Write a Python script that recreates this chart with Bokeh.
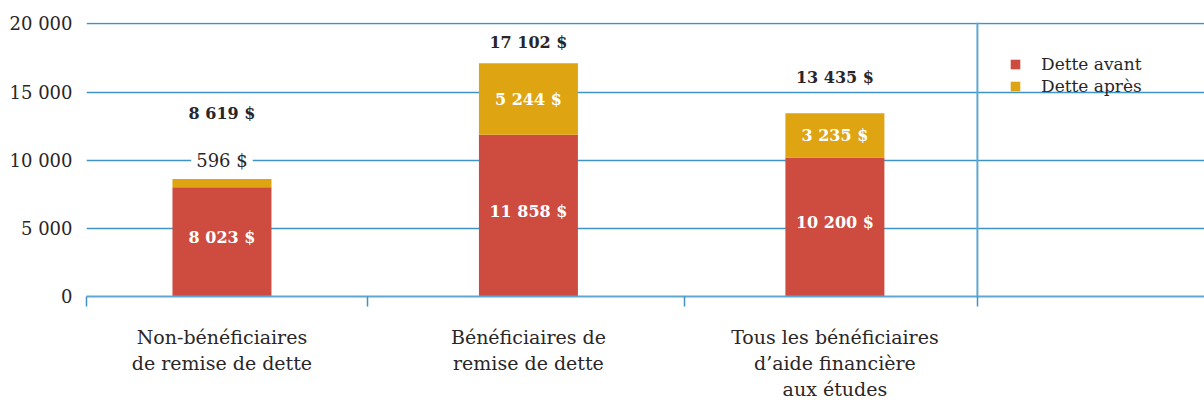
from bokeh.plotting import figure
from bokeh.models import (Range1d, FixedTicker, Span, Label, ColumnDataSource,
                          Legend, LegendItem)
from bokeh.embed import file_html
from bokeh.resources import INLINE
from bokeh.core.properties import value

# ---------------- data ----------------
categories = [
    "Non-bénéficiaires\nde remise de dette",
    "Bénéficiaires de\nremise de dette",
    "Tous les bénéficiaires\nd’aide financière\naux études",
]
series_names = ["Dette avant", "Dette après"]
dette_avant = [8023, 11858, 10200]
dette_apres = [596, 5244, 3235]
totals = [8619, 17102, 13435]
y_ticks = [0, 5000, 10000, 15000, 20000]
y_tick_labels = ["0", "5 000", "10 000", "15 000", "20 000"]

# ---------------- style ----------------
RED = "#cd4c3f"
GOLD = "#dea412"
GRID = "#3f93c6"
AXIS = "#5ea8d2"
TXT = "#2a2627"
FONT = "DejaVu Serif"
total_label_y = [13400, 18600, 16050]   # label placement (layout)
outside_label_y = 10000                 # placement for small segment label
section_edges = [-0.442, 0.475, 1.509, 2.465]

def fmt(v):
    return f"{v:,}".replace(",", " ") + " $"

x = list(range(len(categories)))
src = ColumnDataSource(dict(x=x, avant=dette_avant, apres=dette_apres))

p = figure(width=1204, height=403,
           x_range=Range1d(-0.442, 3.206), y_range=Range1d(0, 20100),
           output_backend="svg", toolbar_location=None,
           min_border_left=86, min_border_right=0,
           min_border_top=22, min_border_bottom=107)
p.outline_line_color = None
p.background_fill_color = "white"
p.border_fill_color = "white"

# grid
p.xgrid.visible = False
p.ygrid.ticker = FixedTicker(ticks=y_ticks)
p.ygrid.grid_line_color = GRID
p.ygrid.grid_line_width = 1.5

# bars
rs = p.vbar_stack(["avant", "apres"], x="x", width=0.323, source=src,
                  color=[RED, GOLD], line_color=None)

# y axis
p.yaxis.ticker = FixedTicker(ticks=y_ticks)
p.yaxis.major_label_overrides = {t: l for t, l in zip(y_ticks, y_tick_labels)}
p.yaxis.axis_line_color = None
p.yaxis.major_tick_line_color = None
p.yaxis.major_tick_out = 0
p.yaxis.major_tick_in = 0
p.yaxis.minor_tick_line_color = None
p.yaxis.major_label_standoff = 14
p.yaxis.major_label_text_font = FONT
p.yaxis.major_label_text_font_size = "18px"
p.yaxis.major_label_text_color = TXT

# x axis: category labels + section ticks
p.xaxis.ticker = FixedTicker(ticks=x, minor_ticks=section_edges)
p.xaxis.major_label_overrides = {i: c for i, c in zip(x, categories)}
p.xaxis.axis_line_color = AXIS
p.xaxis.axis_line_width = 2
p.xaxis.major_tick_line_color = None
p.xaxis.major_tick_out = 0
p.xaxis.major_tick_in = 0
p.xaxis.minor_tick_line_color = GRID
p.xaxis.minor_tick_line_width = 1.5
p.xaxis.minor_tick_out = 10
p.xaxis.minor_tick_in = 0
p.xaxis.major_label_standoff = 19
p.xaxis.major_label_text_font = FONT
p.xaxis.major_label_text_font_size = "19px"
p.xaxis.major_label_text_color = TXT
p.xaxis.major_label_text_line_height = 1.2

# vertical separator
p.add_layout(Span(location=section_edges[-1], dimension="height",
                  line_color=AXIS, line_width=2))

# labels inside bars
inside_red = ColumnDataSource(dict(
    x=x, y=[v / 2 + 300 for v in dette_avant], t=[fmt(v) for v in dette_avant]))
p.text(x="x", y="y", text="t", source=inside_red, text_color="white",
       text_font=value(FONT), text_font_style="bold", text_font_size="16px",
       text_align="center", text_baseline="middle")

gold_in = [i for i, v in enumerate(dette_apres) if v >= 2000]
inside_gold = ColumnDataSource(dict(
    x=[x[i] for i in gold_in],
    y=[dette_avant[i] + dette_apres[i] / 2 for i in gold_in],
    t=[fmt(dette_apres[i]) for i in gold_in]))
p.text(x="x", y="y", text="t", source=inside_gold, text_color="white",
       text_font=value(FONT), text_font_style="bold", text_font_size="16px",
       text_align="center", text_baseline="middle")

for i, v in enumerate(dette_apres):
    if v < 2000:
        p.add_layout(Label(x=x[i], y=outside_label_y, text=fmt(v),
                           text_color=TXT, text_font=FONT, text_font_size="18px",
                           text_align="center", text_baseline="middle",
                           background_fill_color="white", padding=5))

tot_src = ColumnDataSource(dict(x=x, y=total_label_y, t=[fmt(v) for v in totals]))
p.text(x="x", y="y", text="t", source=tot_src, text_color=TXT,
       text_font=value(FONT), text_font_style="bold", text_font_size="16px",
       text_align="center", text_baseline="middle")

# legend
legend = Legend(items=[LegendItem(label=n, renderers=[r]) for n, r in zip(series_names, rs)],
                location=(923, 200), orientation="vertical",
                glyph_width=12, glyph_height=12, label_standoff=20,
                label_height=20, spacing=2, padding=0, margin=0,
                border_line_color=None, background_fill_alpha=0,
                label_text_font=FONT, label_text_font_size="17px",
                label_text_color=TXT)
p.add_layout(legend)

open("out.html", "w").write(file_html(p, INLINE))
